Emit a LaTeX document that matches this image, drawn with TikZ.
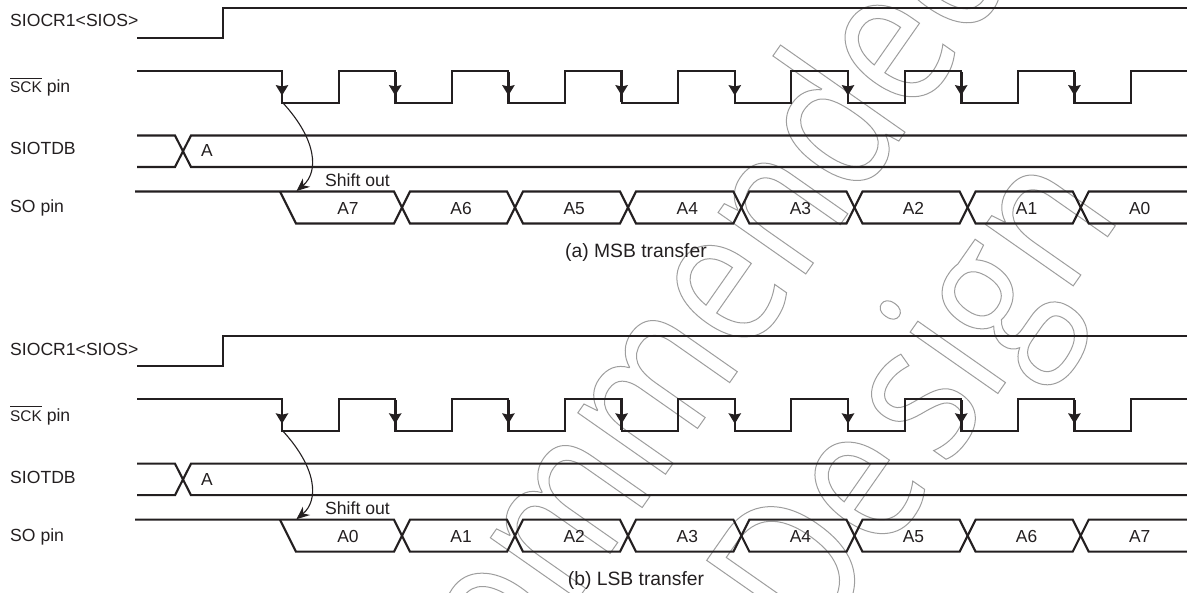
\documentclass[tikz,border=0pt]{standalone}
\usepackage{fontspec}
\setmainfont{Liberation Sans}
\newfontfamily\wmfont[FakeStretch=0.82]{Open Sans}
\usetikzlibrary{arrows.meta}
\definecolor{ink}{HTML}{231F20}
\newcommand{\outlinetext}[1]{\special{pdf:code q 1 Tr 1 w 0.62 G}#1\special{pdf:code Q}}
\tikzset{
  sig/.style={draw=ink,line width=2.1pt,line join=miter},
  fallmark/.style={fill=ink,draw=none},
  lbl/.style={inner sep=0pt,anchor=base west,text=ink,font=\fontsize{17.6}{20}\selectfont},
  captxt/.style={inner sep=0pt,anchor=base,text=ink,font=\fontsize{19.3}{22}\selectfont},
  bit/.style={inner sep=0pt,anchor=base,text=ink,font=\fontsize{17.4}{20}\selectfont},
  wm/.style={inner sep=0pt,anchor=base west,rotate=55,font=\wmfont\fontsize{200}{220}\selectfont},
  curvearrow/.style={draw=ink,line width=1.1pt,-{Stealth[length=13pt,width=11pt]}}
}
\begin{document}
\begin{tikzpicture}[x=1pt,y=-1pt]
\useasboundingbox (0,0) rectangle (1187,593);
\begin{scope}
\clip (0,0) rectangle (1187,593);
\node[wm] (wmone) at (513,692) {\outlinetext{ommended}};
\node[wm] (wmtwo) at (814.3,655.6) {\outlinetext{De\kern16pt sign}};
\end{scope}
\foreach \p/\dy/\capt/\bits in {a/0/{(a) MSB transfer}/{A7,A6,A5,A4,A3,A2,A1,A0},b/328.2/{(b) LSB transfer}/{A0,A1,A2,A3,A4,A5,A6,A7}}{
\begin{scope}[yshift=-\dy pt]
  % labels
  \node[lbl] (\p sios) at (10,27) {SIOCR1<SIOS>};
  \node[lbl] (\p sck) at (10,93) {\fontsize{15.4}{18}\selectfont SCK\fontsize{17.6}{20}\selectfont{} pin};
  \node[lbl] (\p tdb) at (10,155) {SIOTDB};
  \node[lbl] (\p so) at (10,213) {SO pin};
  \draw[draw=ink,line width=0.9pt] (10,78.7) -- (41.7,78.7);
  % SIOCR1
  \draw[sig] (137,38) -- (223,38) -- (223,8) -- (1187,8);
  % SCK
  \draw[sig] (137,71) -- (282,71) -- (282,103) -- (338.6,103) -- (338.6,71)
    -- (395.2,71) -- (395.2,103) -- (451.8,103) -- (451.8,71)
    -- (508.4,71) -- (508.4,103) -- (565,103) -- (565,71)
    -- (621.6,71) -- (621.6,103) -- (678.2,103) -- (678.2,71)
    -- (734.8,71) -- (734.8,103) -- (791.4,103) -- (791.4,71)
    -- (848,71) -- (848,103) -- (904.6,103) -- (904.6,71)
    -- (961.2,71) -- (961.2,103) -- (1017.8,103) -- (1017.8,71)
    -- (1074.4,71) -- (1074.4,103) -- (1131,103) -- (1131,71) -- (1187,71);
  \foreach \f in {282,395.2,508.4,621.6,734.8,848,961.2,1074.4}{
    \draw[draw=ink,line width=2.6pt] (\f,72) -- (\f,102);
    \fill[fallmark] (\f-6.4,85) -- (\f,86.5) -- (\f+6.4,85) -- (\f,95.5) -- cycle;
  }
  % SIOTDB
  \draw[sig] (137,135.5) -- (175,135.5) -- (191,167) -- (1187,167);
  \draw[sig] (137,167) -- (175,167) -- (191,135.5) -- (1187,135.5);
  \node[bit] (\p tdbv) at (207,157) {A};
  % SO
  \draw[sig] (135,191.5) -- (394,191.5) -- (410,223.5) -- (507,223.5) -- (523,191.5)
    -- (620,191.5) -- (636,223.5) -- (733.4,223.5) -- (749.4,191.5)
    -- (846.5,191.5) -- (862.5,223.5) -- (959.6,223.5) -- (975.6,191.5)
    -- (1072.7,191.5) -- (1088.7,223.5) -- (1187,223.5);
  \draw[sig] (280,191.5) -- (296,223.5) -- (394,223.5) -- (410,191.5) -- (507,191.5)
    -- (523,223.5) -- (620,223.5) -- (636,191.5) -- (733.4,191.5) -- (749.4,223.5)
    -- (846.5,223.5) -- (862.5,191.5) -- (959.6,191.5) -- (975.6,223.5)
    -- (1072.7,223.5) -- (1088.7,191.5) -- (1187,191.5);
  \foreach \bt [count=\i from 0] in \bits {
    \node[bit] (\p bit\i) at ({348+113.1*\i},214.5) {\bt};
  }
  \node[lbl] (\p shift) at (325,186.5) {Shift out};
  \node[captxt] (\p cap) at (636,257.5) {\capt};
  % shift arrow
  \coordinate (\p from) at (283,103);
  \coordinate (\p to) at (296.5,191);
  \draw[curvearrow] (\p from) .. controls (317,140) and (319,172) .. (\p to);
\end{scope}
}
\end{tikzpicture}
\end{document}
